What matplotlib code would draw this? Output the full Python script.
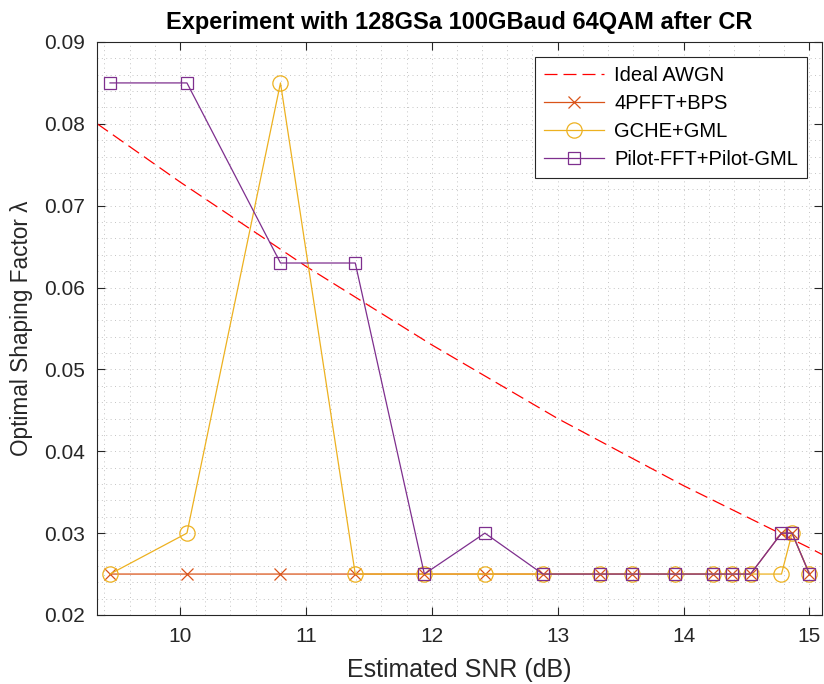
import matplotlib
matplotlib.use("Agg")
import matplotlib.pyplot as plt
from matplotlib.ticker import MultipleLocator

plt.rcParams['font.family'] = ['Liberation Sans', 'DejaVu Sans']

# Data
snr = [9.444, 10.055, 10.798, 11.392, 11.941, 12.422, 12.882, 13.336,
       13.594, 13.932, 14.235, 14.381, 14.532, 14.778, 14.862, 15.0]
pfft_bps = [0.025, 0.025, 0.025, 0.025, 0.025, 0.025, 0.025, 0.025,
            0.025, 0.025, 0.025, 0.025, 0.025, 0.030, 0.030, 0.025]
gche_gml = [0.025, 0.030, 0.085, 0.025, 0.025, 0.025, 0.025, 0.025,
            0.025, 0.025, 0.025, 0.025, 0.025, 0.025, 0.030, 0.025]
pilot_gml = [0.085, 0.085, 0.063, 0.063, 0.025, 0.030, 0.025, 0.025,
             0.025, 0.025, 0.025, 0.025, 0.025, 0.030, 0.030, 0.025]
awgn_snr = [9.343, 10.0, 11.0, 12.0, 13.0, 14.0, 15.0, 15.10]
awgn_lambda = [0.0800, 0.0729, 0.0626, 0.0530, 0.0440, 0.0358, 0.0282, 0.0274]

labels = ['Ideal AWGN', '4PFFT+BPS', 'GCHE+GML', 'Pilot-FFT+Pilot-GML']
xticks = [10, 11, 12, 13, 14, 15]
yticks = [0.02, 0.03, 0.04, 0.05, 0.06, 0.07, 0.08, 0.09]

c_orange = '#D95319'
c_yellow = '#EDB120'
c_purple = '#7E2F8E'
c_axis = '#262626'

fig = plt.figure(figsize=(8.24, 6.84), dpi=100)
ax = fig.add_axes([0.1181, 0.1009, 0.9976 - 0.1181, 0.9386 - 0.1009])

ax.plot(awgn_snr, awgn_lambda, '--', color='#FF0000', lw=0.9, dashes=(10.4, 4.8), label=labels[0])
ax.plot(snr, pfft_bps, '-x', color=c_orange, lw=0.9, ms=8, mew=0.9, label=labels[1])
ax.plot(snr, gche_gml, '-o', color=c_yellow, lw=0.9, ms=11, mew=0.9, mfc='none', label=labels[2])
ax.plot(snr, pilot_gml, '-s', color=c_purple, lw=0.9, ms=8.5, mew=0.9, mfc='none', label=labels[3])

ax.set_xlim(9.343, 15.10)
ax.set_ylim(0.02, 0.09)
ax.set_xticks(xticks)
ax.set_yticks(yticks)
ax.set_xticklabels([str(t) for t in xticks])
ax.set_yticklabels(['%.2f' % t for t in yticks])
ax.xaxis.set_minor_locator(MultipleLocator(0.2))
ax.yaxis.set_minor_locator(MultipleLocator(0.002))

ax.grid(True, which='both', linestyle=(0, (1, 3.5)), color='#c4c4c4', linewidth=0.7)
ax.set_axisbelow(True)

ax.tick_params(which='major', direction='in', length=6, width=0.8, top=True, right=True,
               labelsize=15, colors=c_axis, pad=9)
ax.tick_params(which='minor', length=0, top=True, right=True)
for s in ax.spines.values():
    s.set_color(c_axis)
    s.set_linewidth(0.8)

ax.set_xlabel('Estimated SNR (dB)', fontsize=18, color=c_axis, labelpad=8)
ax.set_ylabel('Optimal Shaping Factor λ', fontsize=16.3, color=c_axis, labelpad=8)
ax.set_title('Experiment with 128GSa 100GBaud 64QAM after CR', fontsize=17,
             fontweight='bold', color='black', pad=9)

leg = ax.legend(loc='upper right', bbox_to_anchor=(0.9795, 0.9735), fontsize=14.5,
                frameon=True, fancybox=False, edgecolor=c_axis, framealpha=1,
                handlelength=3.0, borderpad=0.45, labelspacing=0.45, handletextpad=0.5,
                borderaxespad=0)
leg.get_frame().set_linewidth(0.8)

fig.savefig('out.png', dpi=100)
